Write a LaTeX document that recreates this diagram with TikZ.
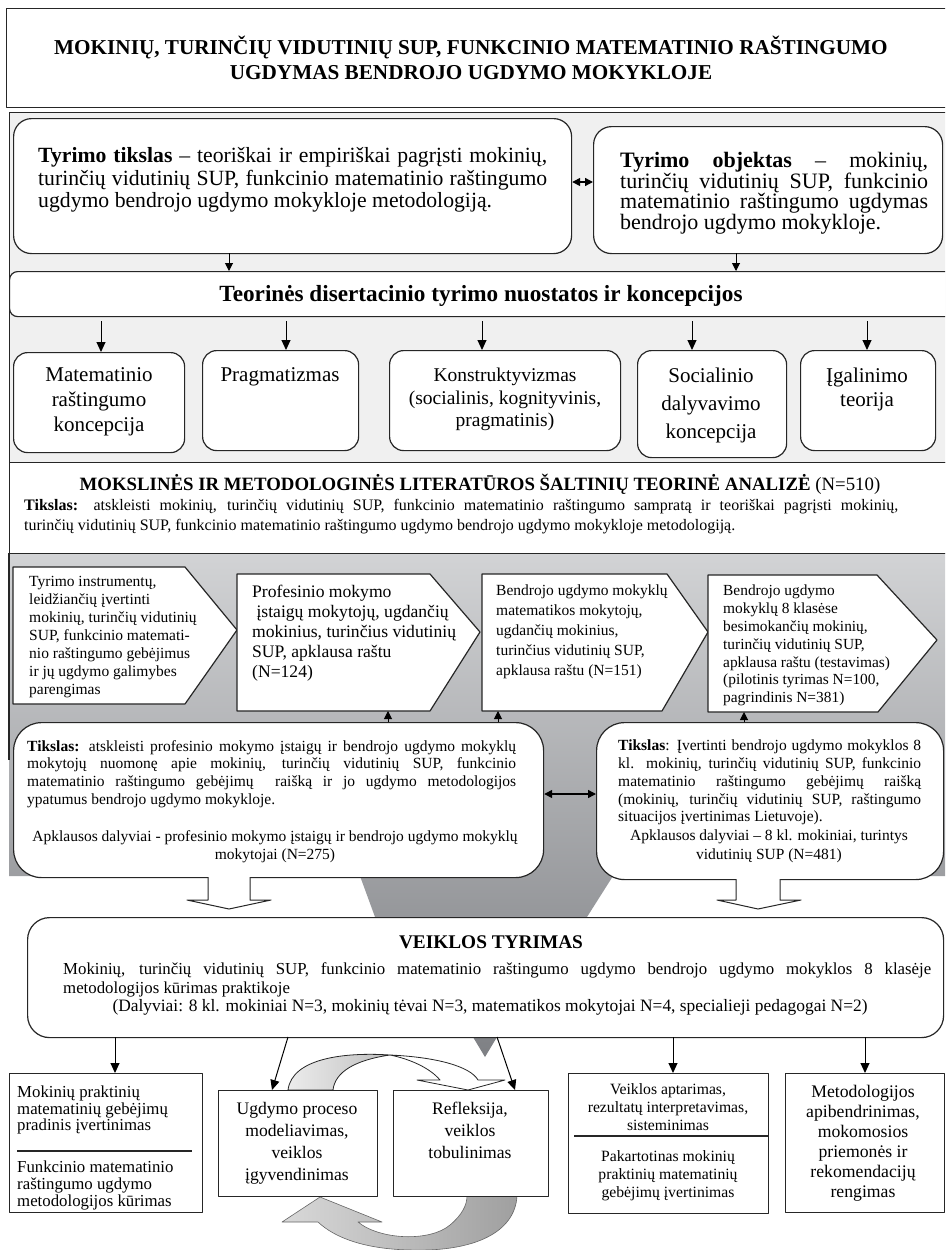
\documentclass[tikz,border=0pt]{standalone}
\usepackage{fontspec}
\setmainfont{Liberation Serif}
\usetikzlibrary{arrows.meta}
\hyphenpenalty=10000
\exhyphenpenalty=10000
\definecolor{lightbg}{HTML}{F0F0F0}
\definecolor{gtop}{HTML}{D2D3D5}
\definecolor{gbot}{HTML}{7E8084}
\newcommand{\fsz}[2]{\fontsize{#1}{#2}\selectfont}
\newcommand{\mkbox}[6]{\node[#1, anchor=north west, inner sep=0pt, minimum width={(#5)-(#3)}, minimum height={(#6)-(#4)}] (#2) at (#3,#4) {};}
\begin{document}
\begin{tikzpicture}[x=1pt,y=-1pt, line join=round,
  frame/.style={draw=black!85, line width=1.2pt},
  arr/.style={-{Triangle[length=10pt,width=9pt]}, line width=1pt},
  sarr/.style={-{Triangle[length=8pt,width=8pt]}, line width=1pt},
  dbl/.style={{Triangle[length=8pt,width=8pt]}-{Triangle[length=8pt,width=8pt]}, line width=1.4pt},
  txt/.style={inner sep=0pt, anchor=north west, align=left},
  jtxt/.style={inner sep=0pt, anchor=north west, align=justify},
  ctxt/.style={inner sep=0pt, anchor=north, align=center},
  btxt/.style={inner sep=0pt, anchor=base}]
\useasboundingbox (0,0) rectangle (945,1250);
\clip (0,0) rectangle (945,1250);
\fill[white] (0,0) rectangle (945,1250);

% title
\mkbox{frame,fill=white}{title}{6}{8}{955}{107}
\node[btxt, font=\fsz{21.2}{25}\bfseries] (title1) at (471,54) {MOKINIŲ, TURINČIŲ VIDUTINIŲ SUP, FUNKCINIO MATEMATINIO RAŠTINGUMO};
\node[btxt, font=\fsz{21.2}{25}\bfseries] (title2) at (471,79) {UGDYMAS BENDROJO UGDYMO MOKYKLOJE};

% upper light region
\mkbox{frame,fill=lightbg}{upper}{9}{112}{960}{462}

% grey funnel region
\shade[top color=gtop, bottom color=gbot] (9,553) -- (960,553) -- (960,876) -- (613,876) -- (587,917) -- (497,1037) -- (485,1057) -- (473,1037) -- (375,917) -- (360,876) -- (9,876) -- cycle;
\draw[frame] (9,553) -- (9,760);

% goal and object
\mkbox{frame,fill=white,rounded corners=18pt}{tt}{13}{118}{571}{253}
\mkbox{frame,fill=white,rounded corners=18pt}{to}{593}{126}{942}{253}
\node[jtxt, text width=509pt, font=\fsz{21.7}{22.5}] (ttt) at (38,147.5) {\textbf{Tyrimo tikslas} -- teoriškai ir empiriškai pagrįsti mokinių,\linebreak turinčių vidutinių SUP, funkcinio matematinio raštingumo\linebreak ugdymo bendrojo ugdymo mokykloje metodologiją.};
\node[jtxt, text width=308pt, font=\fsz{22}{20.5}] (tot) at (620,152.5) {\textbf{Tyrimo objektas} -- mokinių,\linebreak turinčių vidutinių SUP, funkcinio\linebreak matematinio raštingumo ugdymas\linebreak bendrojo ugdymo mokykloje.};
\draw[dbl] (tt.east |- 0,182) -- (to.west |- 0,182);

% theoretical statements
\mkbox{frame,fill=white,rounded corners=8pt}{teo}{9}{271}{960}{316}
\node[btxt, font=\fsz{23.2}{26}\bfseries] (teot) at (481,301) {Teorinės disertacinio tyrimo nuostatos ir koncepcijos};
\coordinate (ta) at (229,253); \coordinate (tb) at (229,271);
\coordinate (oa) at (736,253); \coordinate (ob) at (736,271);
\draw[sarr] (ta) -- (tb);
\draw[sarr] (oa) -- (ob);

% concepts
\mkbox{frame,fill=white,rounded corners=14pt}{c1}{13}{352}{184}{452}
\mkbox{frame,fill=white,rounded corners=14pt}{c2}{202}{350}{358}{450}
\mkbox{frame,fill=white,rounded corners=14pt}{c3}{389}{350}{620}{450}
\mkbox{frame,fill=white,rounded corners=14pt}{c4}{637}{350}{786}{457}
\mkbox{frame,fill=white,rounded corners=14pt}{c5}{800}{350}{935}{450}
\node[ctxt, font=\fsz{21}{25}] (c1t) at (99,367.3) {Matematinio\\raštingumo\\koncepcija};
\node[ctxt, font=\fsz{21}{25}] (c2t) at (280,367.3) {Pragmatizmas};
\node[ctxt, font=\fsz{19.5}{22.5}] (c3t) at (505,368) {Konstruktyvizmas\\(socialinis, kognityvinis,\\pragmatinis)};
\node[ctxt, font=\fsz{21}{28}] (c4t) at (711,367.3) {Socialinio\\dalyvavimo\\koncepcija};
\node[ctxt, font=\fsz{21}{24.5}] (c5t) at (867,367.3) {Įgalinimo\\teorija};
\foreach \n/\xx/\yy in {c1/101/352, c2/286/350, c3/482/350, c4/692/350, c5/867/350}{
  \coordinate (\n s) at (\xx,321);
  \coordinate (\n e) at (\xx,\yy);
  \draw[arr] (\n s) -- (\n e);
}

% literature analysis
\mkbox{frame,fill=white}{lit}{9}{462}{960}{553}
\node[btxt, font=\fsz{18.8}{23}] (litt) at (480,490) {\textbf{MOKSLINĖS IR METODOLOGINĖS LITERATŪROS ŠALTINIŲ TEORINĖ ANALIZĖ} (N=510)};
\node[jtxt, text width=874pt, font=\fsz{16}{20}] (litg) at (24,499.5) {\textbf{Tikslas:} atskleisti mokinių, turinčių vidutinių SUP, funkcinio matematinio raštingumo sampratą ir teoriškai pagrįsti mokinių,\linebreak turinčių vidutinių SUP, funkcinio matematinio raštingumo ugdymo bendrojo ugdymo mokykloje metodologiją.};

% pentagons
\draw[frame, fill=white] (13,567) -- (185,567) -- (237,630) -- (185,704) -- (13,704) -- cycle;
\draw[frame, fill=white] (237,574) -- (430,574) -- (480,632) -- (430,711) -- (237,711) -- cycle;
\draw[frame, fill=white] (482,574) -- (667,574) -- (708,632) -- (662,711) -- (482,711) -- cycle;
\draw[frame, fill=white] (708,575) -- (877,575) -- (937,640) -- (878,712) -- (708,712) -- cycle;
\node[txt, font=\fsz{15.5}{18}] (p1) at (29,576) {Tyrimo instrumentų,\\leidžiančių įvertinti\\mokinių, turinčių vidutinių\\SUP, funkcinio matemati-\\nio raštingumo gebėjimus\\ir jų ugdymo galimybes\\parengimas};
\node[txt, font=\fsz{17.6}{20}] (p2) at (252,585) {Profesinio mokymo\\\ įstaigų mokytojų, ugdančių\\mokinius, turinčius vidutinių\\SUP, apklausa raštu\\(N=124)};
\node[txt, font=\fsz{15.5}{20}] (p3) at (496,585) {Bendrojo ugdymo mokyklų\\matematikos mokytojų,\\ugdančių mokinius,\\turinčius vidutinių SUP,\\apklausa raštu (N=151)};
\node[txt, font=\fsz{15.4}{17.8}] (p4) at (723,585) {Bendrojo ugdymo\\mokyklų 8 klasėse\\besimokančių mokinių,\\turinčių vidutinių SUP,\\apklausa raštu (testavimas)\\(pilotinis tyrimas N=100,\\pagrindinis N=381)};

% survey goals
\mkbox{frame,fill=white,rounded corners=28pt}{lt}{13}{722}{543}{877}
\mkbox{frame,fill=white,rounded corners=28pt}{rt}{596}{722}{943}{879}
\node[jtxt, text width=489pt, font=\fsz{15.5}{17.7}] (ltt) at (27,740) {\textbf{Tikslas:} atskleisti profesinio mokymo įstaigų ir bendrojo ugdymo mokyklų\linebreak mokytojų nuomonę apie mokinių, turinčių vidutinių SUP, funkcinio\linebreak matematinio raštingumo gebėjimų~ raišką ir jo ugdymo metodologijos\linebreak ypatumus bendrojo ugdymo mokykloje.};
\node[ctxt, font=\fsz{15.5}{18}] (ltp) at (275,830) {Apklausos dalyviai - profesinio mokymo įstaigų ir bendrojo ugdymo mokyklų\\mokytojai (N=275)};
\node[jtxt, text width=303pt, font=\fsz{15.5}{17.7}] (rtt) at (618,740) {\textbf{Tikslas}: Įvertinti bendrojo ugdymo mokyklos 8\linebreak kl. mokinių, turinčių vidutinių SUP, funkcinio\linebreak matematinio raštingumo gebėjimų raišką\linebreak (mokinių, turinčių vidutinių SUP, raštingumo\linebreak situacijos įvertinimas Lietuvoje).};
\node[ctxt, font=\fsz{15.5}{19}] (rtp) at (769,830) {Apklausos dalyviai -- 8 kl. mokiniai, turintys\\vidutinių SUP (N=481)};
\coordinate (u1s) at (388,722); \coordinate (u1e) at (388,711);
\coordinate (u2s) at (498,722); \coordinate (u2e) at (498,711);
\coordinate (u3s) at (744,722); \coordinate (u3e) at (744,712);
\draw[sarr] (u1s) -- (u1e);
\draw[sarr] (u2s) -- (u2e);
\draw[sarr] (u3s) -- (u3e);
\draw[dbl] (lt.east |- 0,794) -- (rt.west |- 0,794);

% hollow arrows
\draw[frame, fill=white, line width=1pt] (208,877) -- (208,900) -- (187,900) -- (229,909) -- (271,900) -- (250,900) -- (250,877);
\draw[frame, fill=white, line width=1pt] (736,879) -- (736,900) -- (717,900) -- (758,909) -- (801,900) -- (780,900) -- (780,879);

% action research
\mkbox{frame,fill=white,rounded corners=22pt}{vt}{27}{917}{943}{1037}
\node[btxt, font=\fsz{19.3}{22}\bfseries] (vth) at (491,948) {VEIKLOS TYRIMAS};
\node[jtxt, text width=868pt, font=\fsz{16.8}{19}] (vtb) at (63,962) {Mokinių, turinčių vidutinių SUP, funkcinio matematinio raštingumo ugdymo bendrojo ugdymo mokyklos 8 klasėje\linebreak metodologijos kūrimas praktikoje};
\node[btxt, font=\fsz{17.4}{19}] (vtd) at (490,1011) {(Dalyviai: 8 kl. mokiniai N=3, mokinių tėvai N=3, matematikos mokytojai N=4, specialieji pedagogai N=2)};

% cycle arrows
\shade[left color=gray!15, right color=gray!50, draw=black!85, line width=0.8pt] (288,1090) .. controls (292,1058) and (345,1052) .. (390,1055) .. controls (355,1060) and (335,1072) .. (333,1090) -- cycle;
\draw[fill=white, draw=black!85, line width=0.8pt] (390,1055) .. controls (435,1057) and (470,1066) .. (478,1080) -- (505,1080) -- (468,1090) -- (417,1080) -- (440,1080) .. controls (430,1068) and (410,1059) .. (390,1055) -- cycle;
\shade[left color=gray!30, right color=gray!75, draw=black!60, line width=0.6pt] (282,1222) -- (320,1197) -- (382,1222) -- (358,1222) .. controls (380,1240) and (430,1242) .. (450,1225) .. controls (462,1215) and (467,1205) .. (467,1196) -- (517,1196) .. controls (515,1232) and (475,1252) .. (410,1250) .. controls (365,1249) and (335,1238) .. (318,1222) -- cycle;

% bottom boxes
\mkbox{frame,fill=white}{ba}{9}{1073}{202}{1212}
\mkbox{frame,fill=white}{bb}{218}{1090}{377}{1196}
\mkbox{frame,fill=white}{bc}{393}{1090}{548}{1196}
\mkbox{frame,fill=white}{bd}{568}{1073}{768}{1213}
\mkbox{frame,fill=white}{be}{785}{1073}{944}{1212}
\draw[frame] (17,1151) -- (192,1151);
\draw[frame] (574,1136) -- (bd.east |- 0,1136);
\node[txt, font=\fsz{16.8}{16.5}] (bat) at (17,1086) {Mokinių praktinių\\matematinių gebėjimų\\pradinis įvertinimas};
\node[txt, font=\fsz{16.8}{17}] (bab) at (17,1161) {Funkcinio matematinio\\raštingumo ugdymo\\metodologijos kūrimas};
\node[ctxt, font=\fsz{17.6}{22}] (bbt) at (297,1102) {Ugdymo proceso\\modeliavimas,\\veiklos\\įgyvendinimas};
\node[ctxt, font=\fsz{17.6}{22}] (bct) at (470,1102) {Refleksija,\\veiklos\\tobulinimas};
\node[ctxt, font=\fsz{15.7}{18}] (bdt) at (668,1083) {Veiklos aptarimas,\\rezultatų interpretavimas,\\sisteminimas};
\node[ctxt, font=\fsz{15.7}{18}] (bdb) at (668,1150) {Pakartotinas mokinių\\praktinių matematinių\\gebėjimų įvertinimas};
\node[ctxt, font=\fsz{17.7}{20}] (bet) at (863,1085) {Metodologijos\\apibendrinimas,\\mokomosios\\priemonės ir\\rekomendacijų\\rengimas};

\coordinate (d1s) at (115,1037); \coordinate (d1e) at (115,1073);
\coordinate (d2s) at (288,1037); \coordinate (d2e) at (272,1090);
\coordinate (d3s) at (497,1037); \coordinate (d3e) at (515,1090);
\coordinate (d4s) at (673,1037); \coordinate (d4e) at (673,1073);
\coordinate (d5s) at (865,1037); \coordinate (d5e) at (865,1073);
\foreach \k in {1,...,5}{\draw[arr] (d\k s) -- (d\k e);}
\end{tikzpicture}
\end{document}
